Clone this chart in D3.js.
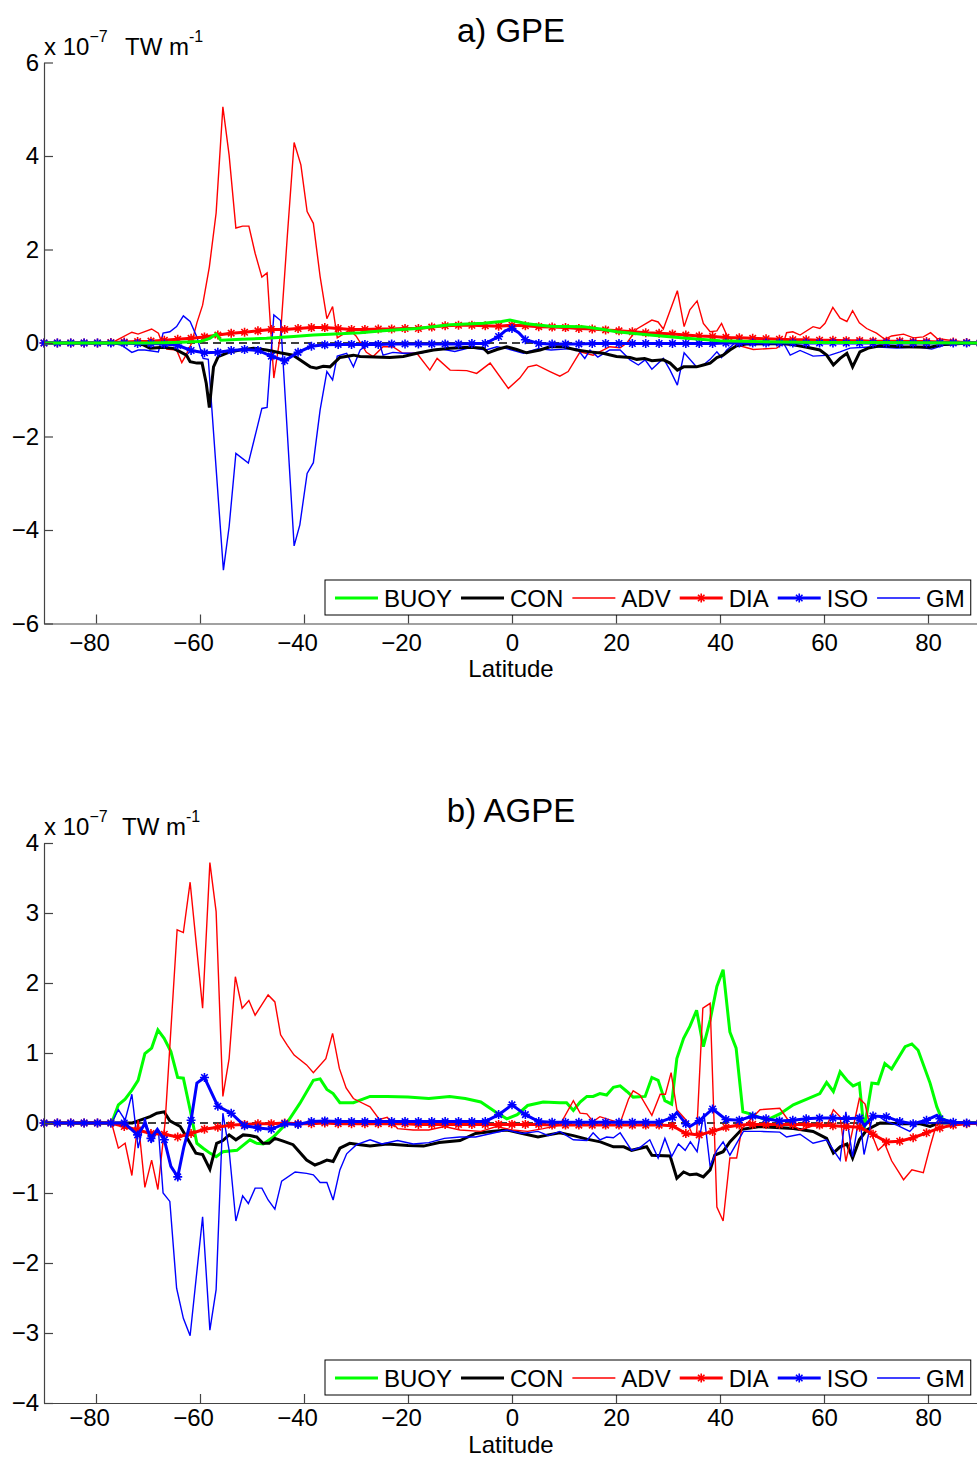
<!DOCTYPE html>
<html>
<head>
<meta charset="utf-8">
<script src="https://cdn.jsdelivr.net/npm/d3@7"></script>
<style>
  body { margin: 0; background: #fff; }
  svg { display: block; }
  text { font-family: "Liberation Sans", Arial, Helvetica, sans-serif; }
</style>
</head>
<body>
<svg id="chart" width="977" height="1458"></svg>
<script>
// ---------------------------------------------------------------
// Zonally integrated energy conversion terms (x 1e-7 TW per metre)
// Thin / irregular series: [latitude, value] vertices.
// DIA and ISO: values on the regular marker grid, plus a few extra
// vertices between markers.
// ---------------------------------------------------------------
const seriesNames = ["BUOY", "CON", "ADV", "DIA", "ISO", "GM"];
const xTicks = [-80, -60, -40, -20, 0, 20, 40, 60, 80];
const yTicksA = [-6, -4, -2, 0, 2, 4, 6];
const yTicksB = [-4, -3, -2, -1, 0, 1, 2, 3, 4];

// latitude grid on which DIA and ISO are sampled (71 points, pole to pole)
const markerLat = d3.range(71).map(k => -90 + k * 180 / 70);

// ---------------- a) GPE ----------------
const gpeBuoy = [[-90,0],[-70,0],[-65,0.01],[-60,0.03],[-58.1,0.1],[-56.9,0.19],[-56,0.06],[-52,0.08],[-47.2,0.1],
  [-42,0.14],[-38.2,0.17],[-33,0.2],[-29.2,0.22],[-24.8,0.26],[-18.3,0.31],[-11.9,0.39],[-5.5,0.42],[-2,0.46],
  [-0.4,0.49],[2.8,0.41],[7.3,0.36],[13.7,0.35],[17,0.3],[20.1,0.24],[26.5,0.17],[33.6,0.1],[40,0.05],[46.4,0.03],
  [59,0.01],[70,0.01],[90,0]];

const gpeCon = [[-90,0],[-73,0],[-70.9,-0.04],[-69.6,-0.11],[-67,-0.09],[-65,-0.12],[-63.8,-0.19],[-62.6,-0.26],
  [-61.9,-0.4],[-60.6,-0.43],[-59.6,-0.43],[-58.8,-0.86],[-58.2,-1.38],[-57.4,-0.51],[-56.5,-0.29],[-54.5,-0.2],
  [-52.3,-0.15],[-49.7,-0.11],[-47.2,-0.15],[-44.6,-0.21],[-42.1,-0.26],[-40.8,-0.36],[-38.8,-0.51],[-37.6,-0.54],
  [-36.3,-0.5],[-35,-0.51],[-33.1,-0.31],[-30.5,-0.26],[-29.2,-0.29],[-23.5,-0.31],[-20.9,-0.29],[-18.3,-0.22],
  [-15.1,-0.15],[-11.9,-0.11],[-8.1,-0.09],[-5.5,-0.11],[-4.6,-0.21],[-2.9,-0.14],[-1,-0.08],[0.9,-0.14],[2.8,-0.21],
  [5.4,-0.15],[7.3,-0.08],[9.9,-0.08],[12.4,-0.15],[15,-0.19],[17.5,-0.22],[20.1,-0.29],[22.7,-0.31],[24,-0.35],
  [25.5,-0.33],[26.9,-0.38],[29.1,-0.36],[30.4,-0.43],[31.8,-0.58],[33,-0.51],[35.5,-0.51],[36.8,-0.47],[38.1,-0.43],
  [39.4,-0.31],[40.6,-0.26],[41.9,-0.15],[43.2,-0.06],[45,-0.02],[52,-0.01],[54.1,-0.04],[56.7,-0.09],[59.2,-0.15],
  [60.5,-0.26],[61.8,-0.47],[63.1,-0.33],[64.4,-0.22],[65.5,-0.51],[66.9,-0.19],[68.5,-0.11],[70.8,-0.06],[75,-0.08],
  [80.4,-0.09],[83,-0.03],[88,0],[90,0]];

const gpeAdv = [[-90,0],[-77,0],[-76,0.06],[-73.1,0.23],[-71.9,0.19],[-69.3,0.3],[-68,0.21],[-67.4,0.03],[-66.4,-0.13],
  [-64.5,-0.15],[-63.5,-0.42],[-62.7,-0.26],[-61.6,0],[-60.6,0.43],[-59.5,0.81],[-58.2,1.63],[-56.9,2.78],[-55.6,5.05],
  [-54.4,4.02],[-53.1,2.46],[-51.8,2.5],[-50.6,2.5],[-49.4,1.92],[-48.1,1.41],[-47.1,1.5],[-45.8,-0.75],[-44.5,0.2],
  [-43.2,2.3],[-41.9,4.29],[-40.6,3.81],[-39.4,2.81],[-38.2,2.56],[-36.9,1.42],[-35.6,0.52],[-34.5,0.78],[-33.6,0.11],
  [-32.3,0.2],[-31.2,0.28],[-30,0.15],[-28,-0.2],[-26.7,-0.29],[-24.8,-0.08],[-22.9,-0.08],[-21,-0.22],[-18.3,-0.22],
  [-15.8,-0.58],[-14.4,-0.33],[-11.9,-0.58],[-8.7,-0.59],[-6.8,-0.65],[-4.2,-0.43],[-0.7,-0.97],[1.5,-0.75],[3.1,-0.51],
  [4.7,-0.47],[7.3,-0.61],[9.2,-0.71],[10.8,-0.61],[13.1,-0.19],[15.6,-0.26],[18.8,-0.08],[20.8,-0.1],[22.1,0],
  [24,0.3],[26.9,0.49],[28.1,0.45],[29.1,0.3],[31.8,1.12],[33.1,0.35],[34.2,0.71],[35.6,0.9],[36.8,0.42],[38.1,0.24],
  [39.4,0.26],[40.3,0.42],[41.3,0.17],[43.2,-0.04],[44.5,-0.08],[46.4,-0.14],[50.9,-0.11],[52.2,0],[52.8,0.22],
  [54,0.24],[55.4,0.17],[57.9,0.35],[59.2,0.31],[60.2,0.42],[61.7,0.76],[63.1,0.53],[64.4,0.46],[65.5,0.69],
  [66.8,0.43],[68.2,0.31],[70.1,0.21],[71.7,0.08],[73,0.15],[75.3,0.19],[77.2,0.11],[79.1,0.13],[80.5,0.22],
  [81.7,0.1],[84.8,0.05],[88,0],[90,0]];

const gpeDia = [0,0,0,0,0,0.01,0.02, 0.03,0.04,0.06,0.08,0.10,0.13,0.17, 0.21,0.23,0.26,0.29,0.29,0.31,0.33,
  0.33,0.31,0.29,0.29,0.30,0.30,0.31, 0.31,0.34,0.37,0.38,0.38,0.37,0.36, 0.38,0.37,0.35,0.34,0.33,0.31,0.30,
  0.28,0.26,0.24,0.22,0.21,0.19,0.17, 0.15,0.14,0.12,0.11,0.10,0.09,0.08, 0.07,0.07,0.06,0.06,0.05,0.05,0.04,
  0.04,0.04,0.03,0.03,0.02,0.02,0.01,0];
const gpeDiaExtra = [];

const gpeIso = [0,0,0,0,0,0,0, -0.01,-0.01,-0.02,-0.05,-0.16,-0.21,-0.20, -0.16,-0.14,-0.16,-0.28,-0.38,-0.2,-0.07,
  -0.04,-0.03,-0.03,-0.03,-0.03,-0.02,-0.02, -0.02,-0.02,-0.02,-0.02,-0.01,-0.01,0.14, 0.31,0.07,-0.01,-0.02,-0.02,-0.02,-0.01,
  -0.01,-0.01,-0.01,-0.01,-0.01,-0.01,-0.01, -0.01,-0.01,0,0,0,0,0, 0,0,0,0,0,0,0, 0,0,0,0,0,0,0,0];
const gpeIsoExtra = [[-1.3,0.26],[1.3,0.22]];

const gpeGm = [[-90,0],[-77,0],[-75,-0.05],[-73.1,-0.2],[-71.9,-0.15],[-70.6,-0.15],[-68,-0.19],[-67.1,0.21],
  [-65.8,0.24],[-64.5,0.35],[-63.2,0.58],[-61.9,0.46],[-60.6,0.13],[-59.4,-0.33],[-58.4,-0.35],[-55.5,-4.86],
  [-54.4,-3.93],[-53.1,-2.36],[-50.7,-2.57],[-48.1,-1.4],[-47.1,-1.38],[-45.8,0.6],[-44.5,0.48],[-41.9,-4.34],
  [-40.8,-3.89],[-39.4,-2.79],[-38.2,-2.56],[-36.9,-1.43],[-35.6,-0.61],[-34.5,-0.79],[-33.6,-0.28],[-31.8,-0.22],
  [-30.5,-0.51],[-29.2,-0.15],[-27.3,0],[-25.5,0],[-24.8,-0.26],[-22.9,-0.2],[-21,-0.22],[-17.7,-0.22],[-14,-0.12],
  [-11,-0.18],[-8,-0.1],[-5,-0.15],[-2.9,-0.08],[-1,-0.12],[2.2,-0.22],[5,-0.12],[7.5,-0.15],[10,-0.13],[12.5,-0.12],
  [14,-0.33],[15,-0.15],[16.5,-0.3],[18.8,-0.15],[20.8,-0.15],[22.7,-0.36],[24.3,-0.47],[25.6,-0.36],[26.9,-0.56],
  [29.1,-0.33],[30.4,-0.58],[31.8,-0.9],[33.1,-0.21],[35.5,-0.51],[36.8,-0.47],[38.1,-0.35],[39.4,-0.19],[40.3,-0.31],
  [41.3,-0.15],[42.9,0],[52.2,0],[53.5,-0.26],[55.4,-0.16],[57.9,-0.28],[61.2,-0.26],[63.1,-0.19],[65,-0.11],
  [69.5,-0.08],[74,-0.11],[78,-0.08],[80.7,-0.13],[83,-0.05],[88,0],[90,0]];

// ---------------- b) AGPE ----------------
const agpeBuoy = [[-90,0],[-77,0],[-75.7,0.26],[-74.4,0.34],[-73.1,0.47],[-71.9,0.61],[-70.6,0.99],[-69.3,1.07],
  [-68.1,1.33],[-66.9,1.21],[-65.6,1.02],[-64.3,0.65],[-63.2,0.64],[-61.9,0.19],[-60.6,-0.29],[-59.4,-0.36],
  [-58.1,-0.43],[-56.9,-0.48],[-55.6,-0.41],[-52.9,-0.39],[-50.4,-0.24],[-49.1,-0.29],[-47.8,-0.3],[-45.9,-0.2],
  [-43.3,0],[-40.8,0.28],[-38.2,0.61],[-36.9,0.63],[-35.6,0.48],[-34.4,0.42],[-33.1,0.29],[-30.5,0.29],[-27.3,0.38],
  [-24,0.38],[-20,0.37],[-16,0.35],[-12,0.38],[-9,0.35],[-6,0.3],[-3,0.15],[-1,0.06],[1,0.12],[3,0.25],[6,0.3],
  [9.2,0.29],[10.5,0.29],[11.8,0.18],[13.1,0.3],[14.4,0.38],[15.6,0.38],[16.9,0.42],[18.2,0.4],[19.5,0.51],
  [20.8,0.53],[22.1,0.45],[23.3,0.37],[25.6,0.38],[26.9,0.65],[28.1,0.61],[29.4,0.32],[30.7,0.27],[31.7,0.92],
  [33,1.21],[34.2,1.38],[35.5,1.61],[36.8,1.09],[38.1,1.47],[39.4,1.95],[40.6,2.19],[41.9,1.3],[43.1,1.07],
  [44.4,0.16],[45.8,0.13],[49,0.04],[51.5,0.13],[54.1,0.26],[56.7,0.34],[59.2,0.42],[60.5,0.58],[61.8,0.45],
  [63.1,0.73],[64.4,0.61],[65.6,0.53],[66.8,0.57],[67.7,-0.1],[69.2,0.57],[70.4,0.56],[71.7,0.85],[73,0.77],
  [75.6,1.09],[76.9,1.13],[78.1,1.04],[80.4,0.57],[81.7,0.23],[82.6,0.07],[84,0.01],[90,0]];

const agpeCon = [[-90,0],[-73,0],[-71.5,0.04],[-69.6,0.09],[-68.3,0.14],[-66.9,0.16],[-65.8,0.03],[-63.8,-0.05],
  [-62.6,-0.2],[-60.8,-0.43],[-59.5,-0.45],[-58.1,-0.66],[-56.8,-0.29],[-55.6,-0.25],[-54.4,-0.17],[-53.1,-0.24],
  [-51.7,-0.17],[-50.4,-0.18],[-49.1,-0.2],[-47.9,-0.29],[-46.7,-0.29],[-45.6,-0.22],[-44,-0.26],[-42.1,-0.31],
  [-39.5,-0.53],[-37.9,-0.6],[-36.8,-0.57],[-35.6,-0.53],[-34.4,-0.55],[-33.1,-0.36],[-31.2,-0.29],[-29.2,-0.31],
  [-27.3,-0.33],[-24,-0.3],[-20,-0.32],[-17,-0.33],[-14,-0.28],[-10,-0.25],[-7,-0.15],[-4,-0.12],[-1,-0.1],
  [2,-0.15],[5,-0.2],[7,-0.17],[9.2,-0.14],[11.8,-0.18],[14.4,-0.23],[17,-0.27],[19.5,-0.34],[21.5,-0.34],
  [23,-0.39],[25.9,-0.34],[26.9,-0.46],[30.4,-0.47],[31.7,-0.79],[33,-0.7],[34.2,-0.74],[35.5,-0.73],[36.8,-0.77],
  [38.1,-0.67],[39,-0.46],[40.6,-0.41],[41.9,-0.27],[44.2,-0.09],[47.7,-0.05],[54.1,-0.08],[57.9,-0.12],
  [60.5,-0.22],[61.8,-0.43],[63.1,-0.34],[64.4,-0.3],[65.5,-0.5],[66.8,-0.24],[68.2,-0.1],[70.8,0],[75,-0.01],
  [78.5,-0.01],[80.4,-0.05],[82,0],[90,0]];

const agpeAdv = [[-90,0],[-77,0],[-75.7,-0.36],[-74.4,-0.29],[-73.1,-0.75],[-71.9,0.04],[-70.6,-0.92],[-69.3,-0.53],
  [-68.1,-0.95],[-66.7,0.02],[-64.4,2.76],[-63.2,2.72],[-61.9,3.44],[-60.6,2.47],[-59.5,1.64],[-58.1,3.72],
  [-56.9,3.02],[-55.6,0.38],[-54.4,0.92],[-53.2,2.09],[-51.9,1.64],[-50.6,1.75],[-49.4,1.54],[-48.1,1.69],
  [-46.9,1.83],[-45.6,1.73],[-44.5,1.26],[-43.2,1.11],[-41.9,0.97],[-39.5,0.83],[-38.2,0.72],[-35.8,0.92],
  [-34.5,1.28],[-33.2,0.78],[-31.9,0.5],[-30.5,0.35],[-29.2,0.3],[-27.3,0.23],[-25.5,0.05],[-24,0.08],[-22,-0.08],
  [-19,-0.1],[-16,-0.1],[-13,-0.05],[-10,-0.1],[-6,-0.12],[-3,-0.05],[0,-0.1],[3,-0.12],[6,-0.08],[9.2,-0.03],
  [11.8,0.32],[13.1,0.14],[14.4,0.13],[15.6,0.02],[16.9,0.09],[18.2,0.06],[20.8,0],[22.4,0.34],[23.3,0.46],
  [24.6,0.4],[26.9,0.11],[28.5,0.41],[29.5,0.41],[30.6,0.72],[31.7,0.19],[33.5,0.04],[34.6,-0.15],[35.5,-0.17],
  [36.7,1.64],[38.1,1.71],[39.4,-1.2],[40.6,-1.4],[41.9,-0.5],[43.2,-0.5],[44.2,-0.08],[47.7,0.19],[51.5,0.21],
  [53.5,0],[55.4,-0.1],[57.9,-0.04],[60.5,-0.05],[61.8,0.19],[63.1,0.09],[64.2,-0.55],[65.5,-0.1],[66.8,0.35],
  [67.9,0.27],[69.2,-0.16],[70.4,-0.39],[71.7,-0.3],[73,-0.54],[75.3,-0.81],[76.9,-0.67],[79.1,-0.71],[80.4,-0.34],
  [81.7,0],[83,0.04],[85,0.01],[90,0]];

const agpeDia = [0,0,0,0,0,0,-0.05, -0.1,-0.15,-0.16,-0.2,-0.15,-0.09,-0.06, -0.03,-0.02,-0.01,-0.01,0,-0.01,-0.01,
  0,-0.01,-0.01,-0.01,-0.01,-0.01,-0.01, -0.02,-0.02,-0.02,-0.02,-0.02,-0.02,-0.02, -0.02,-0.02,-0.02,-0.03,-0.03,-0.03,-0.03,
  -0.03,-0.03,-0.03,-0.03,-0.03,-0.04,-0.15, -0.17,-0.12,-0.06,-0.03,-0.02,-0.02,-0.02, -0.02,-0.02,-0.03,-0.04,-0.05,-0.06,-0.16,
  -0.27,-0.26,-0.21,-0.14,-0.07,-0.03,-0.01,0];
const agpeDiaExtra = [];

const agpeIso = [0,0,0,0,0,0,0, -0.17,-0.22,-0.24,-0.77,0.04,0.65,0.24, 0.14,-0.04,-0.07,-0.09,-0.01,-0.02,0.02,
  0.03,0.02,0.02,0.02,0.02,0.02,0.02, 0.02,0.02,0.02,0.02,0.02,0.02,0.12, 0.26,0.12,0.02,0.01,0.01,0.01,0.01,
  0.01,0.01,0.01,0.01,0.01,0.08,-0.01, 0.03,0.2,0.05,0.04,0.1,0.06,0.03, 0.04,0.06,0.07,0.07,0.06,0.07,0.1,
  0.09,0.02,-0.01,0.04,0.06,0.01,0,0];
const agpeIsoExtra = [[-70.6,-0.01],[-68.2,-0.09],[-65.6,-0.62],[-63.1,-0.34],[-60.6,0.57],[31.7,0.15],[34.2,-0.05],
  [67.8,-0.04],[81.7,0.11]];

const agpeGm = [[-90,0],[-77,0],[-75.7,0.19],[-74.4,0.04],[-73.1,0.41],[-71.9,-0.36],[-70.6,0.07],[-69.3,-0.27],
  [-68,-0.1],[-67.1,-1.0],[-65.8,-1.12],[-64.5,-2.36],[-63.2,-2.79],[-61.9,-3.04],[-59.5,-1.34],[-58.1,-2.96],
  [-56.9,-2.38],[-55.6,0.14],[-54.4,-0.39],[-53.1,-1.4],[-51.8,-1.04],[-50.7,-1.15],[-49.4,-0.93],[-48.1,-0.93],
  [-46.9,-1.1],[-45.6,-1.23],[-44.3,-0.83],[-41.7,-0.7],[-39.5,-0.72],[-38.2,-0.74],[-36.9,-0.85],[-35.6,-0.85],
  [-34.4,-1.1],[-33.1,-0.67],[-31.8,-0.44],[-29.9,-0.31],[-27.3,-0.24],[-25,-0.3],[-22,-0.25],[-19,-0.3],[-16,-0.28],
  [-13,-0.22],[-10,-0.2],[-7,-0.2],[-4,-0.15],[-1,-0.1],[2,-0.15],[5,-0.12],[7,-0.18],[9.2,-0.12],[11.8,-0.24],
  [14.4,-0.25],[15.6,-0.14],[16.9,-0.24],[18.2,-0.2],[19.5,-0.21],[20.8,-0.14],[23,-0.39],[24.6,-0.35],[26.5,-0.24],
  [28.1,-0.5],[29.4,-0.22],[30.7,-0.48],[32,-0.3],[33.3,-0.39],[34.3,-0.27],[35.6,-0.41],[36.9,0.14],[38.1,-0.62],
  [39.4,-0.39],[40.6,-0.27],[41.9,-0.46],[44.5,-0.12],[47.7,-0.12],[51.5,-0.13],[52.8,-0.2],[55.4,-0.16],
  [57.9,-0.29],[60.5,-0.24],[63.1,-0.53],[64.2,0.16],[65.5,-0.48],[66.8,0.12],[67.7,-0.45],[69.2,0.05],[70.4,0.1],
  [72,0.02],[74,-0.03],[76.5,-0.12],[78,0],[81,0],[90,0]];

// ---------------------------------------------------------------
const style = {
  BUOY: { color: "#00ff00", width: 3,   marker: false },
  CON:  { color: "#000000", width: 3,   marker: false },
  ADV:  { color: "#ff0000", width: 1.4, marker: false },
  DIA:  { color: "#ff0000", width: 3,   marker: true  },
  ISO:  { color: "#0000ff", width: 3,   marker: true  },
  GM:   { color: "#0000ff", width: 1.4, marker: false }
};

// merge grid samples with extra vertices into one sorted vertex list
function gridSeries(values, extra) {
  const pts = values.map((v, k) => [markerLat[k], v]).concat(extra);
  return pts.sort((a, b) => a[0] - b[0]);
}
function gridMarkers(values) {
  return values.map((v, k) => [markerLat[k], v]);
}

const svg = d3.select("#chart");
const x = d3.scaleLinear().domain([-90, 90]).range([44, 980]);

const AXIS = "#444";

function asterisk(r) {
  const c = r * 0.72;
  return `M${-r},0H${r}M0,${-r}V${r}M${-c},${-c}L${c},${c}M${-c},${c}L${c},${-c}`;
}

function drawPanel(p) {
  const g = svg.append("g");
  const y = d3.scaleLinear().domain(p.yDomain).range(p.yRange);

  // title
  g.append("text").attr("x", 511).attr("y", p.titleY).attr("text-anchor", "middle")
    .attr("font-size", 33).text(p.title);

  // scale factor / unit label
  const t = g.append("text").attr("x", 44).attr("y", p.expY).attr("font-size", 24);
  t.append("tspan").text("x 10");
  t.append("tspan").attr("dy", -13).attr("font-size", 16).text("\u22127");
  t.append("tspan").attr("x", p.unitX).attr("dy", 13).text("TW m");
  t.append("tspan").attr("dy", -13).attr("font-size", 16).text("-1");

  // zero reference line
  g.append("line").attr("x1", x(-90)).attr("x2", x(90)).attr("y1", y(0)).attr("y2", y(0))
    .attr("stroke", "#000").attr("stroke-width", 1.3).attr("stroke-dasharray", "8,5");

  const line = d3.line().x(d => x(d[0])).y(d => y(d[1]));

  p.order.forEach(name => {
    const s = style[name];
    const d = p.data[name];
    g.append("path").datum(d.line).attr("d", line)
      .attr("fill", "none").attr("stroke", s.color).attr("stroke-width", s.width)
      .attr("stroke-linejoin", "miter").attr("stroke-miterlimit", 3);
    if (s.marker) {
      g.append("g").selectAll("path").data(d.markers).join("path")
        .attr("transform", m => `translate(${x(m[0])},${y(m[1])})`)
        .attr("d", asterisk(4.5)).attr("fill", "none")
        .attr("stroke", s.color).attr("stroke-width", 1.6);
    }
  });

  // axes
  const xAxis = g.append("g").attr("transform", `translate(0,${p.yRange[0]})`)
    .call(d3.axisBottom(x).tickValues(xTicks).tickSize(-9).tickSizeOuter(0).tickPadding(p.xTickPad));
  const yAxis = g.append("g").attr("transform", `translate(${x(-90)},0)`)
    .call(d3.axisLeft(y).tickValues(p.yTicks).tickSize(-9).tickSizeOuter(0).tickPadding(5));
  [xAxis, yAxis].forEach(a => {
    a.attr("font-size", 24).attr("font-family", null);
    a.select(".domain").attr("stroke", AXIS).attr("stroke-width", 1.2);
    a.selectAll(".tick line").attr("stroke", AXIS).attr("stroke-width", 1.2);
    a.selectAll(".tick text").attr("fill", "#000");
  });
  // digits stay centred on the tick; the minus sign hangs to the left
  xAxis.selectAll(".tick text").attr("dx", d => d < 0 ? -7 : 0);

  g.append("text").attr("x", 511).attr("y", p.yRange[0] + p.xLabelGap).attr("text-anchor", "middle")
    .attr("font-size", 24).text("Latitude");

  // legend
  const lg = g.append("g");
  const box = lg.append("rect").attr("x", 325).attr("y", p.legendTop).attr("height", 35)
    .attr("fill", "#fff").attr("stroke", "#000").attr("stroke-width", 1);
  const midY = p.legendTop + 18;
  let cx = 335;
  seriesNames.forEach(name => {
    const s = style[name];
    lg.append("line").attr("x1", cx).attr("x2", cx + 43).attr("y1", midY).attr("y2", midY)
      .attr("stroke", s.color).attr("stroke-width", s.width);
    if (s.marker) {
      lg.append("path").attr("transform", `translate(${cx + 21.5},${midY})`).attr("d", asterisk(4.5))
        .attr("fill", "none").attr("stroke", s.color).attr("stroke-width", 1.6);
    }
    const txt = lg.append("text").attr("x", cx + 49).attr("y", midY + 8.5).attr("font-size", 24).text(name);
    cx = cx + 49 + txt.node().getComputedTextLength() + 9;
  });
  box.attr("width", cx - 9 + 6 - 325);
}

drawPanel({
  title: "a) GPE", titleY: 42, expY: 55, unitX: 125, xTickPad: 10, xLabelGap: 53,
  yDomain: [-6, 6], yRange: [623.5, 62.5], yTicks: yTicksA, legendTop: 580,
  order: ["ADV", "GM", "CON", "DIA", "ISO", "BUOY"],
  data: {
    BUOY: { line: gpeBuoy },
    CON:  { line: gpeCon },
    ADV:  { line: gpeAdv },
    DIA:  { line: gridSeries(gpeDia, gpeDiaExtra), markers: gridMarkers(gpeDia) },
    ISO:  { line: gridSeries(gpeIso, gpeIsoExtra), markers: gridMarkers(gpeIso) },
    GM:   { line: gpeGm }
  }
});

drawPanel({
  title: "b) AGPE", titleY: 822, expY: 835, unitX: 122, xTickPad: 6, xLabelGap: 49.9,
  yDomain: [-4, 4], yRange: [1403, 843], yTicks: yTicksB, legendTop: 1360,
  order: ["BUOY", "CON", "ADV", "GM", "DIA", "ISO"],
  data: {
    BUOY: { line: agpeBuoy },
    CON:  { line: agpeCon },
    ADV:  { line: agpeAdv },
    DIA:  { line: gridSeries(agpeDia, agpeDiaExtra), markers: gridMarkers(agpeDia) },
    ISO:  { line: gridSeries(agpeIso, agpeIsoExtra), markers: gridMarkers(agpeIso) },
    GM:   { line: agpeGm }
  }
});
</script>
</body>
</html>
